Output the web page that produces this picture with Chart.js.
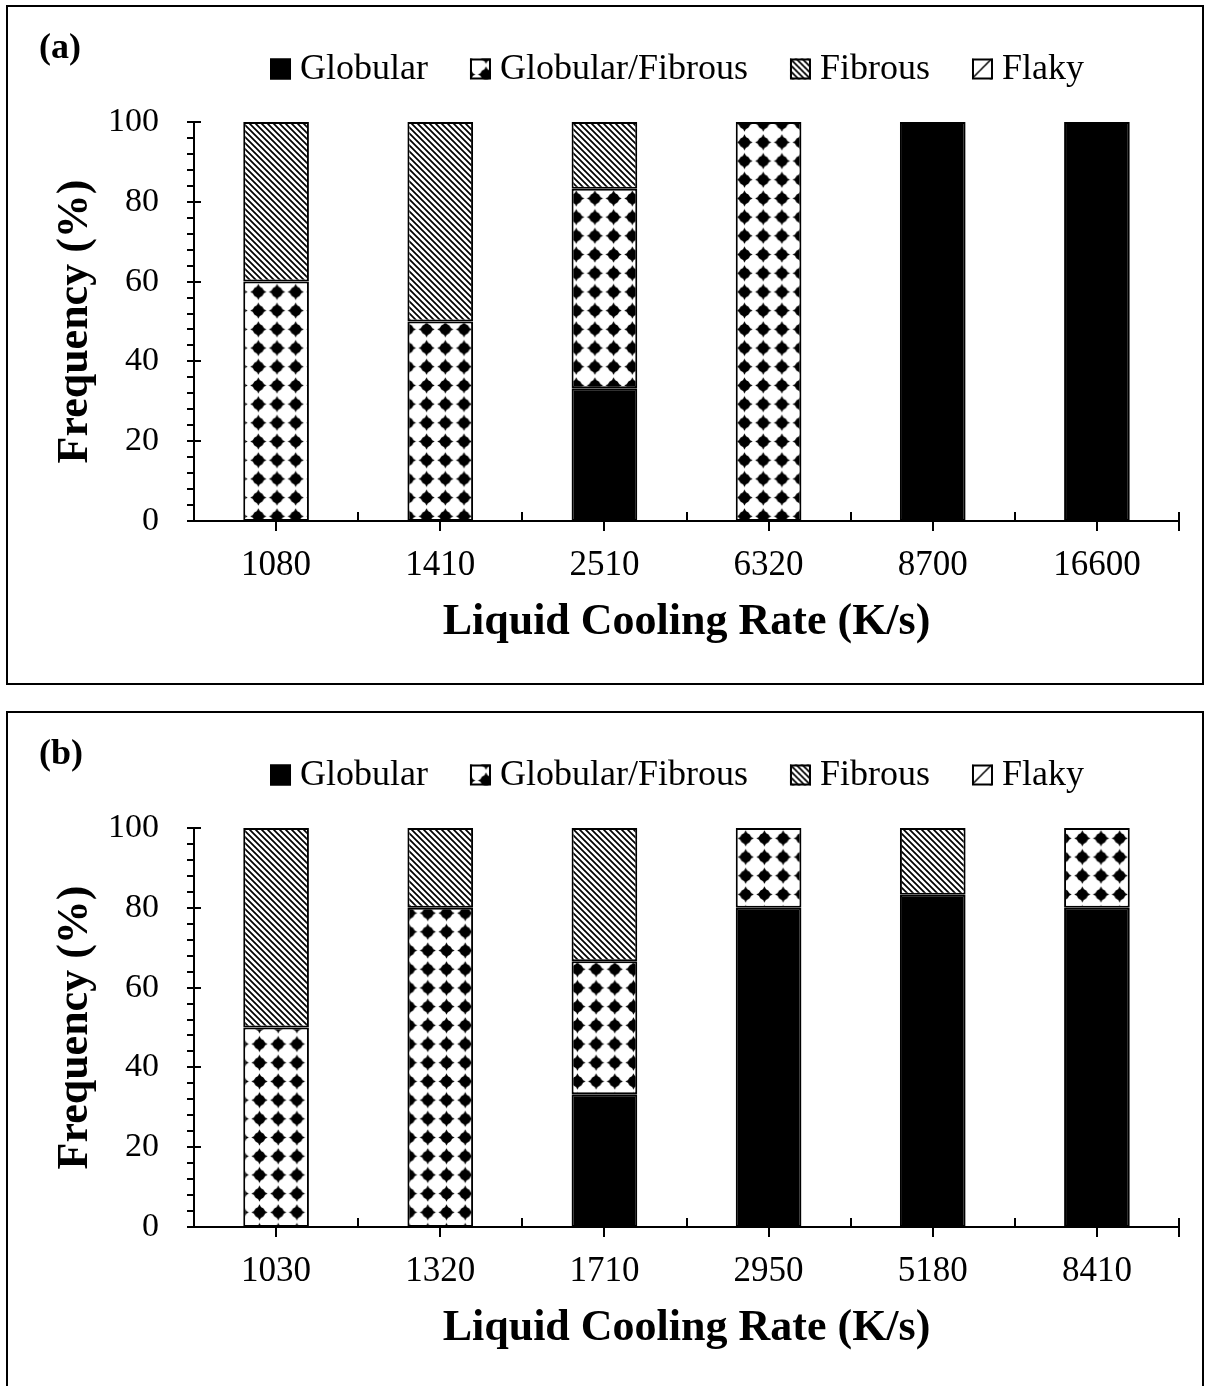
<!DOCTYPE html>
<html>
<head>
<meta charset="utf-8">
<script src="https://cdn.jsdelivr.net/npm/chart.js@4.4.0/dist/chart.umd.min.js"></script>
<style>
  body { margin: 0; background: #fff; width: 1206px; height: 1386px; position: relative; overflow: hidden; }
  .panel { position: absolute; left: 6px; width: 1194px; border: 2px solid #000; }
  #panelA { top: 5px; height: 676px; }
  #panelB { top: 711px; height: 700px; }
  .wrap { position: absolute; left: 0; width: 1206px; height: 680px; }
  #wrapA { top: 0; }
  #wrapB { top: 706px; }
</style>
</head>
<body>
<div class="panel" id="panelA"></div>
<div class="panel" id="panelB"></div>
<div class="wrap" id="wrapA"><canvas id="chartA" width="1206" height="680"></canvas></div>
<div class="wrap" id="wrapB"><canvas id="chartB" width="1206" height="680"></canvas></div>
<script>
// morphology names, shared by both panels
const morphologies = ['Globular', 'Globular/Fibrous', 'Fibrous', 'Flaky'];

// panel (a)
const ratesA = ['1080', '1410', '2510', '6320', '8700', '16600'];
const globularA = [0, 0, 33.3, 0, 100, 100];
const globFibA = [60, 50, 50, 100, 0, 0];
const fibrousA = [40, 50, 16.7, 0, 0, 0];
const flakyA = [0, 0, 0, 0, 0, 0];

// panel (b)
const ratesB = ['1030', '1320', '1710', '2950', '5180', '8410'];
const globularB = [0, 0, 33.3, 80, 83.3, 80];
const globFibB = [50, 80, 33.3, 20, 0, 20];
const fibrousB = [50, 20, 33.4, 0, 16.7, 0];
const flakyB = [0, 0, 0, 0, 0, 0];

const FONT = '"Liberation Serif", "Times New Roman", serif';

// Fibrous: dark downward diagonal
function hatchPattern(ctx) {
  const c = document.createElement('canvas');
  c.width = c.height = 6;
  const g = c.getContext('2d');
  g.fillStyle = '#fff';
  g.fillRect(0, 0, 6, 6);
  g.strokeStyle = '#000';
  g.lineWidth = 1.7;
  g.beginPath();
  for (let k = -6; k <= 6; k += 6) {
    g.moveTo(k - 1, -1);
    g.lineTo(k + 7, 7);
  }
  g.stroke();
  return ctx.createPattern(c, 'repeat');
}

// Globular/Fibrous: round blobs with four short spikes
function blobPattern(ctx, ox, oy) {
  const T = 19, s = 18.7 / 19, m = 9.5;
  const c = document.createElement('canvas');
  c.width = c.height = T;
  const g = c.getContext('2d');
  g.fillStyle = '#fff';
  g.fillRect(0, 0, T, T);
  g.fillStyle = '#000';
  g.beginPath();
  g.arc(m, m, 5.6, 0, Math.PI * 2);
  g.fill();
  [[1, 0], [0, 1], [-1, 0], [0, -1]].forEach(([dx, dy]) => {
    g.beginPath();
    g.moveTo(m + dx * 4 - dy * 2.2, m + dy * 4 + dx * 2.2);
    g.lineTo(m + dx * 8.2, m + dy * 8.2);
    g.lineTo(m + dx * 4 + dy * 2.2, m + dy * 4 - dx * 2.2);
    g.closePath();
    g.fill();
  });
  const p = ctx.createPattern(c, 'repeat');
  p.setTransform(new DOMMatrix().translate(ox - m * s, oy - m * s).scale(s));
  return p;
}

// Flaky: wide upward diagonal
function flakyPattern(ctx) {
  const c = document.createElement('canvas');
  c.width = c.height = 20;
  const g = c.getContext('2d');
  g.fillStyle = '#fff';
  g.fillRect(0, 0, 20, 20);
  g.strokeStyle = '#000';
  g.lineWidth = 1.5;
  g.beginPath();
  g.moveTo(-1, 21); g.lineTo(21, -1);
  g.stroke();
  return ctx.createPattern(c, 'repeat');
}

// axis tick marks: minor + major on y, centre/boundary marks on x
const axisTicks = {
  id: 'axisTicks',
  afterDatasetsDraw(chart) {
    const { ctx, chartArea: a, scales: { x, y } } = chart;
    ctx.save();
    ctx.strokeStyle = '#000';
    ctx.lineWidth = 2;
    ctx.beginPath();
    for (let v = 0; v <= 100; v += 4) {
      const py = Math.round(y.getPixelForValue(v));
      ctx.moveTo(a.left - 7, py);
      ctx.lineTo(v % 20 === 0 ? a.left + 7 : a.left, py);
    }
    const n = chart.data.labels.length;
    for (let i = 0; i < n; i++) {
      const px = Math.round(x.getPixelForValue(i));
      ctx.moveTo(px, a.bottom);
      ctx.lineTo(px, a.bottom + 10);
      const last = i === n - 1;
      const edge = last ? Math.round(a.right) : Math.round((x.getPixelForValue(i) + x.getPixelForValue(i + 1)) / 2);
      ctx.moveTo(edge, a.bottom - 9);
      ctx.lineTo(edge, a.bottom + (last ? 10 : 0));
    }
    ctx.stroke();
    ctx.restore();
  }
};

// panel tag and the legend row above the plot
const panelLegend = {
  id: 'panelLegend',
  afterDraw(chart, args, opts) {
    const ctx = chart.ctx;
    ctx.save();
    ctx.fillStyle = '#000';
    ctx.textBaseline = 'middle';
    ctx.textAlign = 'left';
    ctx.font = 'bold 36px ' + FONT;
    ctx.fillText(opts.tag, 39, 49);

    ctx.font = '36px ' + FONT;
    const sets = chart.data.datasets;
    const box = 21, gap = 9, itemGap = 42;
    const widths = sets.map(d => ctx.measureText(d.label).width);
    const total = widths.reduce((s, w) => s + w, 0) + sets.length * (box + gap) + (sets.length - 1) * itemGap;
    let x = opts.centerX - total / 2;
    const y = 69;
    sets.forEach((d, i) => {
      ctx.save();
      ctx.translate(x, y - box / 2);
      ctx.fillStyle = opts.markers[i];
      ctx.fillRect(0, 0, box, box);
      ctx.strokeStyle = '#000';
      ctx.lineWidth = 2;
      ctx.strokeRect(1, 1, box - 2, box - 2);
      ctx.restore();
      ctx.fillStyle = '#000';
      ctx.fillText(d.label, x + box + gap, y + 1);
      x += box + gap + widths[i] + itemGap;
    });
    ctx.restore();
  }
};

function buildChart(id, tag, labels, series, blobOrigin) {
  const ctx = document.getElementById(id).getContext('2d');
  const fills = ['#000', blobPattern(ctx, blobOrigin[0], blobOrigin[1]), hatchPattern(ctx), flakyPattern(ctx)];
  const markers = ['#000', blobPattern(ctx, 16, 16), hatchPattern(ctx), flakyPattern(ctx)];
  new Chart(ctx, {
    type: 'bar',
    data: {
      labels: labels,
      datasets: series.map((data, i) => ({
        label: morphologies[i],
        data: data,
        backgroundColor: fills[i],
        borderColor: '#000',
        borderWidth: 2,
        borderSkipped: false,
        categoryPercentage: 1,
        barPercentage: 0.4
      }))
    },
    options: {
      responsive: false,
      animation: false,
      layout: { padding: { top: 122, right: 27, left: 0, bottom: 0 } },
      plugins: {
        legend: { display: false },
        tooltip: { enabled: false },
        panelLegend: { tag: tag, centerX: 677, markers: markers }
      },
      scales: {
        x: {
          stacked: true,
          grid: { display: false, drawTicks: false },
          border: { color: '#000', width: 2 },
          ticks: { color: '#000', font: { family: FONT, size: 35 }, padding: 24, maxRotation: 0 },
          title: {
            display: true, text: 'Liquid Cooling Rate (K/s)', color: '#000',
            font: { family: FONT, size: 44, weight: 'bold' }, padding: { top: 0, bottom: 31 }
          },
          afterFit(s) { s.height = 159; }
        },
        y: {
          stacked: true,
          min: 0,
          max: 100,
          grid: { display: false, drawTicks: false },
          border: { color: '#000', width: 2 },
          ticks: { stepSize: 20, color: '#000', font: { family: FONT, size: 34 }, padding: 35 },
          title: {
            display: true, text: 'Frequency (%)', color: '#000',
            font: { family: FONT, size: 44, weight: 'bold' }, padding: { top: 49, bottom: 0 }
          },
          afterFit(s) { s.width = 194; }
        }
      }
    },
    plugins: [axisTicks, panelLegend]
  });
}

buildChart('chartA', '(a)', ratesA, [globularA, globFibA, fibrousA, flakyA], [15.2, 11.4]);
buildChart('chartB', '(b)', ratesB, [globularB, globFibB, fibrousB, flakyB], [16.4, 1.4]);
</script>
</body>
</html>
